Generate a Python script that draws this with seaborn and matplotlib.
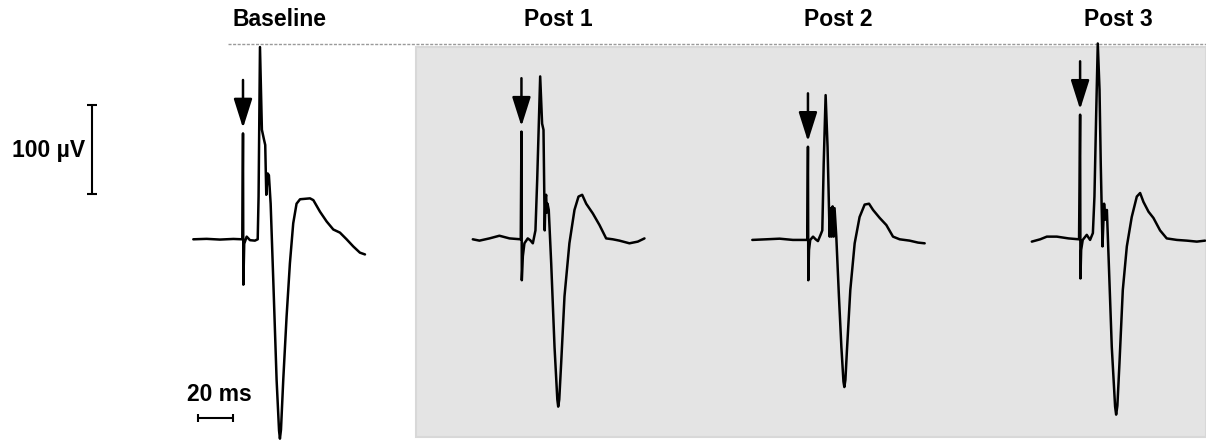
import numpy as np
import pandas as pd
import matplotlib
matplotlib.use("Agg")
import matplotlib.pyplot as plt
import seaborn as sns

conditions = ["Baseline", "Post 1", "Post 2", "Post 3"]

# time from sweep start (ms) and amplitude (µV)
baseline_t = [0, 7.6, 15.2, 22.9, 28.0, 28.4, 28.6, 29.1, 30.5, 32.4, 35.2, 36.8, 37.3, 38.1,
              39.2, 40.4, 41.1, 41.7, 42.5, 43.2, 44.2, 45.7, 47.6, 49.0, 49.5, 50.1, 51.4,
              53.3, 55.2, 57.1, 59.0, 61.0, 66.7, 68.6, 72.4, 76.2, 80.0, 83.8, 87.6, 91.4,
              95.2, 98.1]
baseline_uv = [0, 0.5, -0.3, 0.4, 0, 119, -51, -5, 3, -1, -1.5, 0, 48, 216,
               123, 112, 106, 50, 74, 72, 40, -46, -158, -215, -224, -214, -158,
               -87, -27, 18, 40, 45, 46, 44, 31, 20, 11, 7.5, 0, -8,
               -15, -17]

post1_t = [0, 3.8, 9.5, 15.2, 21.0, 27.4, 27.8, 28.0, 28.6, 29.5, 31.4, 32.8, 34.3, 35.8,
           36.8, 38.5, 39.6, 40.4, 41.1, 41.5, 41.9, 42.3, 42.7, 43.4, 44.8, 46.7, 48.3,
           48.8, 49.4, 50.5, 52.4, 55.2, 58.1, 60.4, 62.5, 64.8, 68.6, 72.4, 76.2, 80.0,
           83.8, 89.5, 94.3, 98.1]
post1_uv = [0, -1.5, 1, 4, 1, 0, 121, -46, -19, -4.5, 1, -1, -4.5, 10,
            67, 183, 130, 123, 10, 45, 50, 30, 40, 33, -27, -121, -180,
            -188, -180, -139, -64, -4.5, 33, 48, 50, 40, 29, 16, 1, 0,
            -1.5, -4.5, -2.6, 1]

post2_t = [0, 8.0, 15.6, 23.2, 31.4, 31.8, 32.0, 32.4, 33.1, 34.7, 36.2, 37.5, 39.0, 40.0,
           40.8, 41.9, 43.0, 44.2, 44.8, 45.3, 45.9, 46.5, 47.0, 48.0, 49.5, 50.9, 52.1,
           52.6, 53.2, 54.1, 56.0, 58.5, 61.3, 64.2, 66.7, 69.0, 72.8, 76.6, 80.4, 84.2,
           89.9, 94.7, 98.5]
post2_uv = [-0.7, 0, 0.7, -0.7, -0.7, 104, -46, -12, -0.7, 3, 0, -2, 5, 10,
            85, 162, 104, 3, 35, 3, 37, 3, 35, 3, -64, -121, -160,
            -166, -158, -124, -57, -4.5, 25, 39, 40, 33, 24, 16, 3, 0,
            -1.5, -3.7, -4.5]

post3_t = [0, 4.8, 8.6, 14.3, 21.0, 27.0, 27.6, 27.8, 28.2, 29.1, 31.4, 33.3, 34.9, 35.8,
           36.8, 37.7, 38.7, 39.4, 40.4, 41.3, 42.1, 42.9, 44.0, 45.7, 47.6, 48.2, 48.9,
           50.1, 52.0, 54.3, 57.1, 60.0, 61.9, 63.8, 66.7, 69.5, 73.3, 77.1, 82.9, 88.6,
           94.3, 99.0]
post3_uv = [-2.6, 0, 3, 3, 1, 0, 140, -44, -12, -0.7, 5, -0.7, 7, 48,
            142, 220, 168, 85, -8, 40, 22, 33, -27, -121, -188, -197, -187,
            -139, -57, -8, 25, 48, 52, 42, 31, 24, 10, 1, -0.7, -1.5,
            -2.6, -1.5]

traces = [(baseline_t, baseline_uv), (post1_t, post1_uv), (post2_t, post2_uv), (post3_t, post3_uv)]

# figure geometry: 1.75 px per ms, 0.89 px per µV, zero line at 239 px from top
W, H = 1206, 440
px_ms, px_uv, y0 = 1.75, 0.89, 239.3
first_start = 193.3 / px_ms
panel_step = 279.5 / px_ms

sns.set_style("white")
plt.rcParams["font.family"] = ["Liberation Sans", "DejaVu Sans"]
plt.rcParams["text.color"] = "black"

fig = plt.figure(figsize=(W / 100, H / 100), dpi=100)
ax = fig.add_axes([0, 0, 1, 1])
xmax = W / px_ms
ax.set_xlim(0, xmax)
ax.set_ylim(-(H - y0) / px_uv, y0 / px_uv)
ax.axis("off")

def to_uv(ypx):
    return (y0 - ypx) / px_uv

# grey background behind the post-treatment sweeps
ax.add_patch(plt.Rectangle((416 / px_ms, to_uv(436.7)), xmax - 416 / px_ms,
                           to_uv(47.3) - to_uv(436.7), facecolor="#e4e4e4",
                           edgecolor="#d8d8d8", lw=1.5, zorder=0))
ax.hlines(to_uv(44.3), 228 / px_ms, xmax, colors="#9a9a9a", lw=1.0,
          linestyles=(0, (2.2, 1.1)), zorder=1)

rows = []
for i, (name, (t, uv)) in enumerate(zip(conditions, traces)):
    off = first_start + i * panel_step
    for tt, vv in zip(t, uv):
        rows.append({"condition": name, "x": tt + off, "uv": vv})
df = pd.DataFrame(rows)

sns.lineplot(data=df, x="x", y="uv", units="condition", estimator=None, sort=False,
             color="black", lw=1.8, legend=False, ax=ax, zorder=3)

for i, (name, (t, uv)) in enumerate(zip(conditions, traces)):
    off = first_start + i * panel_step
    t = np.asarray(t)
    uv = np.asarray(uv)
    # stimulus artefact = first sample above 90 µV
    k = int(np.argmax(uv > 90))
    ax.annotate("", xy=(t[k] + off, uv[k] + 6), xytext=(t[k] + off, uv[k] + 60),
                arrowprops=dict(arrowstyle="-|>,head_width=0.38,head_length=1.2",
                                color="black", lw=1.8, mutation_scale=15,
                                shrinkA=0, shrinkB=0), zorder=4)
    ax.text((t.min() + t.max()) / 2 + off, to_uv(20), name, ha="center", va="center",
            fontsize=16.5, fontweight="bold")

# scale bars
vx = 92 / px_ms
ax.plot([vx, vx], [to_uv(194), to_uv(194) + 100], color="black", lw=1.5,
        marker="_", ms=7.5, mew=1.5)
ax.text(85 / px_ms, to_uv(150), "100 µV", ha="right", va="center",
        fontsize=16.5, fontweight="bold")

hy = to_uv(418)
ax.plot([198 / px_ms, 198 / px_ms + 20], [hy, hy], color="black", lw=1.5,
        marker="|", ms=6, mew=1.5)
ax.text(219 / px_ms, to_uv(394), "20 ms", ha="center", va="center",
        fontsize=16.5, fontweight="bold")

fig.savefig("out.png", dpi=100)
